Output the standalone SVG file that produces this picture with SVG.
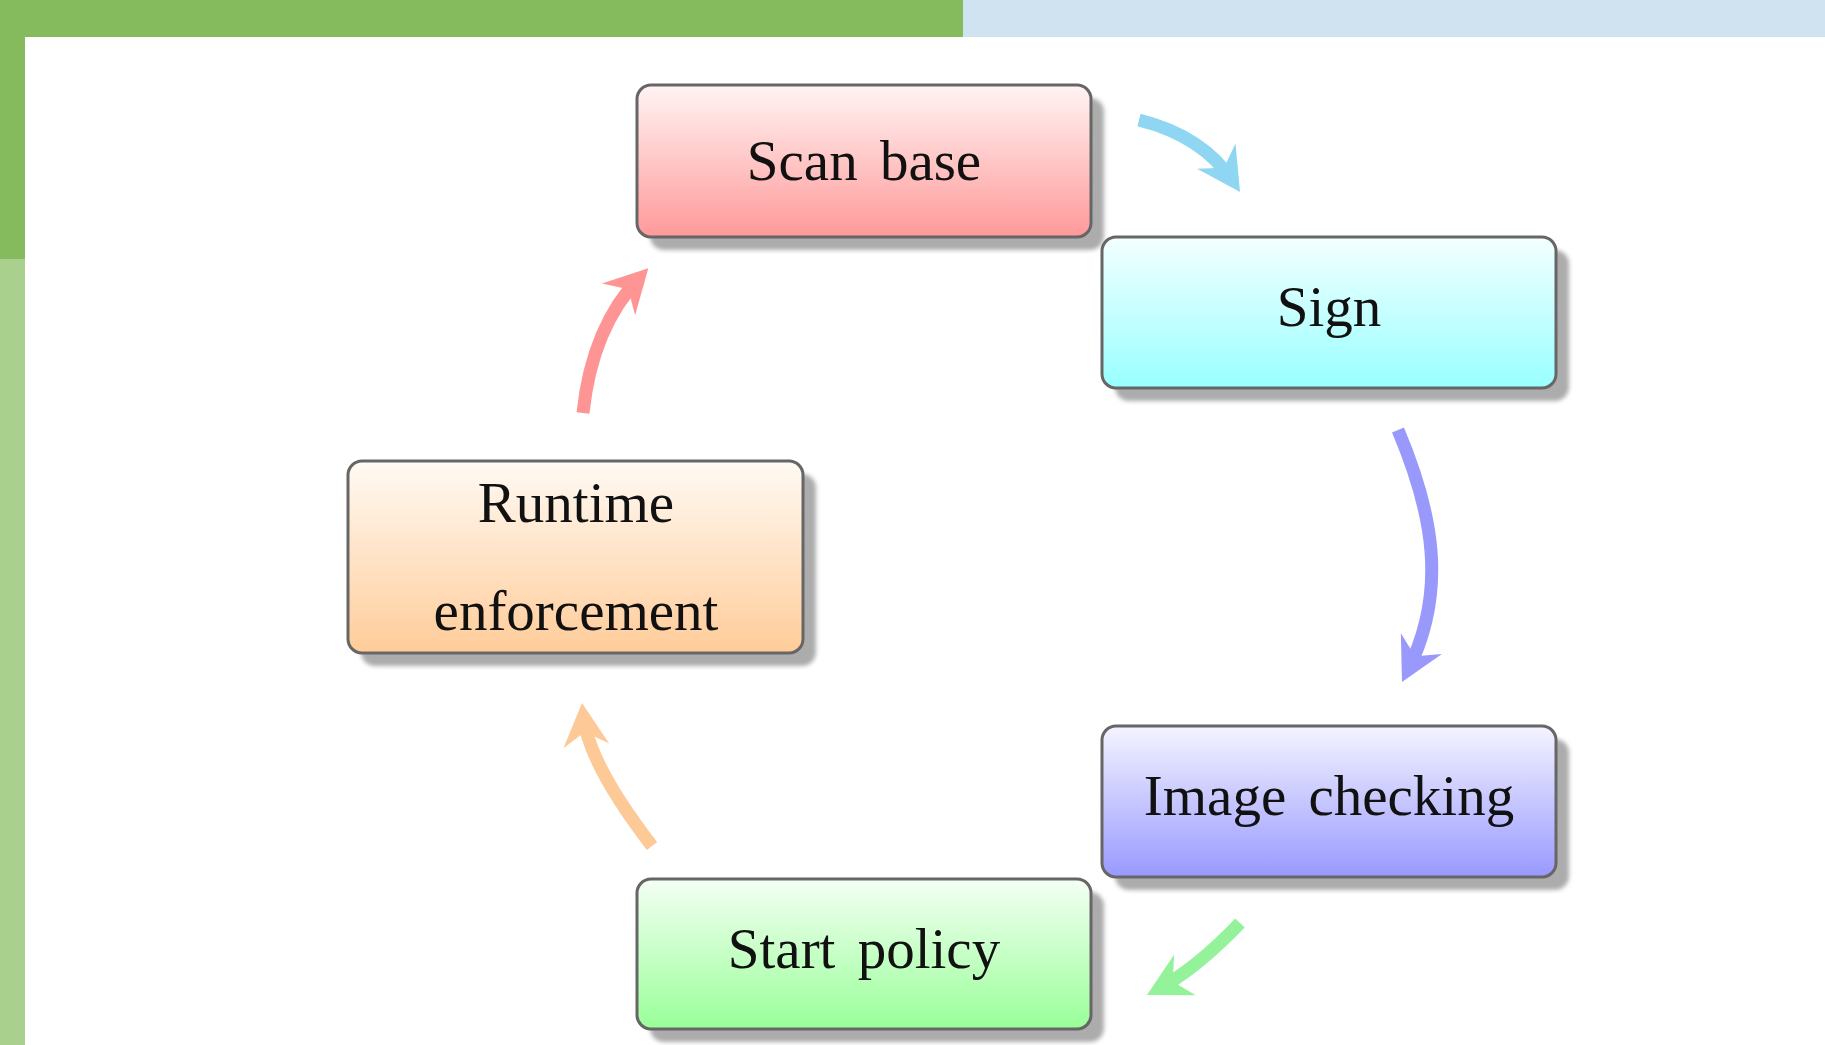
<svg xmlns="http://www.w3.org/2000/svg" width="1825" height="1045" viewBox="0 0 1825 1045">
  <style>
    .box { stroke: #666666; stroke-width: 3; }
    .shadow { fill: #acacac; filter: url(#soft); }
    .label { font-family: "Liberation Serif", "Times New Roman", serif; font-size: 57px; fill: #111; text-anchor: middle; word-spacing: 8px; }
    .arc { fill: none; stroke-width: 13; stroke-linecap: butt; }
  </style>
  <defs>
    <filter id="soft" x="-10%" y="-20%" width="120%" height="140%">
      <feGaussianBlur stdDeviation="2"/>
    </filter>
    <linearGradient id="g-red" x1="0" y1="0" x2="0" y2="1">
      <stop offset="0" stop-color="#fff4f4"/>
      <stop offset="1" stop-color="#ff9999"/>
    </linearGradient>
    <linearGradient id="g-cyan" x1="0" y1="0" x2="0" y2="1">
      <stop offset="0" stop-color="#f4ffff"/>
      <stop offset="1" stop-color="#99ffff"/>
    </linearGradient>
    <linearGradient id="g-blue" x1="0" y1="0" x2="0" y2="1">
      <stop offset="0" stop-color="#f4f4ff"/>
      <stop offset="1" stop-color="#9999ff"/>
    </linearGradient>
    <linearGradient id="g-green" x1="0" y1="0" x2="0" y2="1">
      <stop offset="0" stop-color="#f4fff4"/>
      <stop offset="1" stop-color="#99ff99"/>
    </linearGradient>
    <linearGradient id="g-orange" x1="0" y1="0" x2="0" y2="1">
      <stop offset="0" stop-color="#fffaf4"/>
      <stop offset="1" stop-color="#ffcc99"/>
    </linearGradient>
    <!-- barbed arrowheads, tip 12px beyond the path end -->
    <marker id="h-cyan" markerUnits="userSpaceOnUse" orient="auto" refX="0" refY="0" markerWidth="1" markerHeight="1" overflow="visible">
      <path d="M 12 0 L -31 -23 L -17 0 L -31 23 Z" fill="#8fd6f2"/>
    </marker>
    <marker id="h-blue" markerUnits="userSpaceOnUse" orient="auto" refX="0" refY="0" markerWidth="1" markerHeight="1" overflow="visible">
      <path d="M 12 0 L -31 -23 L -17 0 L -31 23 Z" fill="#9999fb"/>
    </marker>
    <marker id="h-green" markerUnits="userSpaceOnUse" orient="auto" refX="0" refY="0" markerWidth="1" markerHeight="1" overflow="visible">
      <path d="M 12 0 L -31 -23 L -17 0 L -31 23 Z" fill="#94f29a"/>
    </marker>
    <marker id="h-orange" markerUnits="userSpaceOnUse" orient="auto" refX="0" refY="0" markerWidth="1" markerHeight="1" overflow="visible">
      <path d="M 12 0 L -31 -23 L -17 0 L -31 23 Z" fill="#fdc997"/>
    </marker>
    <marker id="h-red" markerUnits="userSpaceOnUse" orient="auto" refX="0" refY="0" markerWidth="1" markerHeight="1" overflow="visible">
      <path d="M 12 0 L -31 -23 L -17 0 L -31 23 Z" fill="#ff9494"/>
    </marker>
  </defs>

  <!-- page background and slide frame bars -->
  <rect x="0" y="0" width="1825" height="1045" fill="#ffffff"/>
  <rect x="0" y="0" width="963" height="37" fill="#85bb5c"/>
  <rect x="963" y="0" width="862" height="37" fill="#d0e3f1"/>
  <rect x="0" y="37" width="25" height="222" fill="#85bb5c"/>
  <rect x="0" y="259" width="25" height="786" fill="#a9d18d"/>

  <!-- cycle connectors -->
  <g id="connectors">
    <path class="arc" stroke="#8fd6f2" marker-end="url(#h-cyan)" d="M 1139 120 Q 1203 136 1233.4 182"/>
    <path class="arc" stroke="#9999fb" marker-end="url(#h-blue)" d="M 1398 430 C 1433 513 1448 591 1407.4 671.3"/>
    <path class="arc" stroke="#94f29a" marker-end="url(#h-green)" d="M 1240 923 Q 1196 969 1157.6 989.4"/>
    <path class="arc" stroke="#fdc997" marker-end="url(#h-orange)" d="M 652 846 Q 588 763 583.2 715"/>
    <path class="arc" stroke="#ff9494" marker-end="url(#h-red)" d="M 583 413 Q 592 327 640 277"/>
  </g>

  <g id="scan-base">
    <rect class="shadow" x="650" y="98" width="454" height="152" rx="14"/>
    <rect class="box" x="637" y="85" width="454" height="152" rx="14" fill="url(#g-red)"/>
    <text class="label" x="864" y="180">Scan base</text>
  </g>

  <g id="sign">
    <rect class="shadow" x="1115" y="250" width="454" height="151" rx="14"/>
    <rect class="box" x="1102" y="237" width="454" height="151" rx="14" fill="url(#g-cyan)"/>
    <text class="label" x="1329" y="326">Sign</text>
  </g>

  <g id="image-checking">
    <rect class="shadow" x="1115" y="739" width="454" height="151" rx="14"/>
    <rect class="box" x="1102" y="726" width="454" height="151" rx="14" fill="url(#g-blue)"/>
    <text class="label" x="1329" y="815">Image checking</text>
  </g>

  <g id="start-policy">
    <rect class="shadow" x="650" y="892" width="454" height="150" rx="14"/>
    <rect class="box" x="637" y="879" width="454" height="150" rx="14" fill="url(#g-green)"/>
    <text class="label" x="864" y="968">Start policy</text>
  </g>

  <g id="runtime-enforcement">
    <rect class="shadow" x="361" y="474" width="455" height="192" rx="14"/>
    <rect class="box" x="348" y="461" width="455" height="192" rx="14" fill="url(#g-orange)"/>
    <text class="label" x="576" y="522">Runtime</text>
    <text class="label" x="576" y="630">enforcement</text>
  </g>
</svg>
